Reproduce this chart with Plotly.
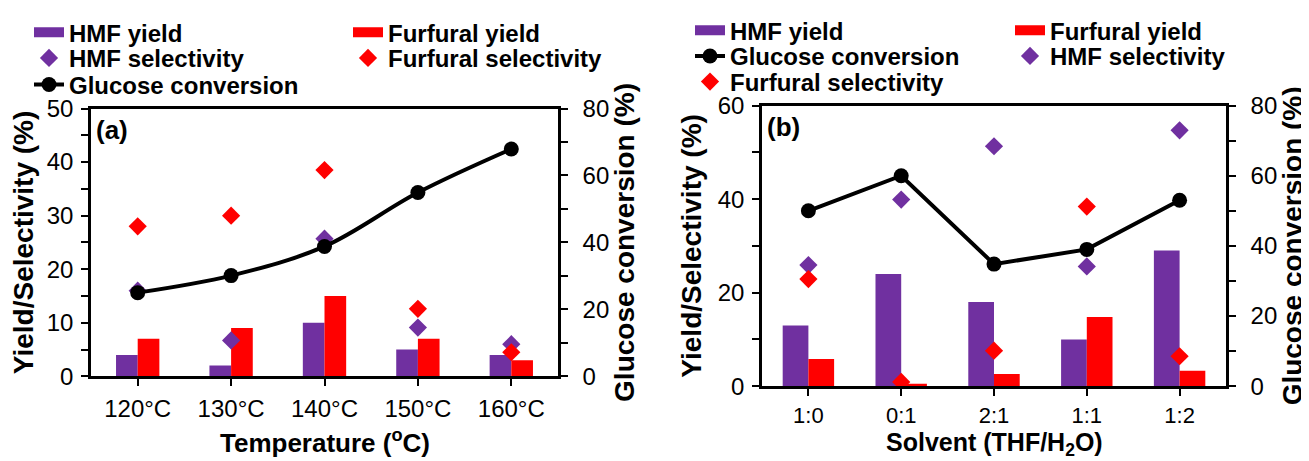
import plotly.graph_objects as go

# ---------------- data ----------------
temp_cats = ["120°C", "130°C", "140°C", "150°C", "160°C"]
a_hmf_yield = [4, 2, 10, 5, 4]
a_furfural_yield = [7, 9, 15, 7, 3]
a_hmf_sel = [16.0, 6.7, 25.7, 9.1, 6.0]
a_furfural_sel = [28.0, 30.0, 38.5, 12.6, 4.5]
a_glucose_conv = [25.0, 30.1, 38.8, 54.9, 67.9]

solv_cats = ["1:0", "0:1", "2:1", "1:1", "1:2"]
b_hmf_yield = [13, 24, 18, 10, 29]
b_furfural_yield = [5.8, 0.5, 2.6, 14.8, 3.3]
b_hmf_sel = [25.9, 39.9, 51.3, 25.6, 54.7]
b_furfural_sel = [22.9, 0.9, 7.6, 38.4, 6.4]
b_glucose_conv = [50.0, 60.0, 34.8, 39.0, 53.0]

PURPLE = "#7030A0"
RED = "#FF0000"
FONT = "Liberation Sans, Arial, sans-serif"
OFF = 8                      # page body margin of the html page
W, H = 1309 - OFF, 461 - OFF

fig = go.Figure()

def px_x(p):
    return (p - OFF) / W

def px_y(p):
    return 1 - (p - OFF) / H

# legend placement: (legend id, left px on screen, centre y px on screen)
leg_pos = {
    "legend": (29, 26), "legend2": (348, 26), "legend3": (29, 52), "legend4": (348, 52), "legend5": (29, 79),
    "legend6": (690, 24), "legend7": (1010, 24), "legend8": (690, 50), "legend9": (1010, 50), "legend10": (690, 76),
}

def add_panel(cats, hmf_y, fur_y, hmf_s, fur_s, conv, xa, ya, ya2, bw, legs, line_shape):
    fig.add_trace(go.Bar(x=cats, y=hmf_y, width=bw, offset=-bw, marker=dict(color=PURPLE, line=dict(width=0)),
                         xaxis=xa, yaxis=ya, showlegend=False, name="HMF yield"))
    fig.add_trace(go.Bar(x=cats, y=fur_y, width=bw, offset=0, marker=dict(color=RED, line=dict(width=0)),
                         xaxis=xa, yaxis=ya, showlegend=False, name="Furfural yield"))
    fig.add_trace(go.Scatter(x=cats, y=hmf_s, mode="markers", marker=dict(symbol="diamond", size=14, color=PURPLE),
                             xaxis=xa, yaxis=ya, name="HMF selectivity", legend=legs["HMF selectivity"]))
    fig.add_trace(go.Scatter(x=cats, y=fur_s, mode="markers", marker=dict(symbol="diamond", size=14, color=RED),
                             xaxis=xa, yaxis=ya, name="Furfural selectivity", legend=legs["Furfural selectivity"]))
    fig.add_trace(go.Scatter(x=cats, y=conv, mode="lines+markers", line=dict(color="black", width=4, shape=line_shape),
                             marker=dict(symbol="circle", size=15, color="black"),
                             xaxis=xa, yaxis=ya2, name="Glucose conversion", legend=legs["Glucose conversion"]))
    # legend proxies for the bar swatches (wide rectangles as in the original)
    fig.add_trace(go.Scatter(x=[None], y=[None], mode="lines", line=dict(color=PURPLE, width=11),
                             xaxis=xa, yaxis=ya, name="HMF yield", legend=legs["HMF yield"]))
    fig.add_trace(go.Scatter(x=[None], y=[None], mode="lines", line=dict(color=RED, width=11),
                             xaxis=xa, yaxis=ya, name="Furfural yield", legend=legs["Furfural yield"]))

add_panel(temp_cats, a_hmf_yield, a_furfural_yield, a_hmf_sel, a_furfural_sel, a_glucose_conv,
          "x", "y", "y2", 0.232,
          {"HMF yield": "legend", "Furfural yield": "legend2", "HMF selectivity": "legend3",
           "Furfural selectivity": "legend4", "Glucose conversion": "legend5"}, "spline")
add_panel(solv_cats, b_hmf_yield, b_furfural_yield, b_hmf_sel, b_furfural_sel, b_glucose_conv,
          "x2", "y3", "y4", 0.277,
          {"HMF yield": "legend6", "Furfural yield": "legend7", "Glucose conversion": "legend8",
           "HMF selectivity": "legend9", "Furfural selectivity": "legend10"}, "linear")

tickfont = dict(family=FONT, size=24, color="black")
xtitlefont = dict(family=FONT, size=26, color="black", weight="bold")
ytitlefont = dict(family=FONT, size=28, color="black", weight="bold")

def xaxis(domain, anchor, labelgap, fsize=24):
    return dict(domain=domain, anchor=anchor, range=[-0.5, 4.5], showline=True, linecolor="black", linewidth=2.5,
                mirror=True, ticks="outside", ticklen=7, tickwidth=2, tickcolor="black",
                tickfont=dict(family=FONT, size=fsize, color="black"),
                ticklabelstandoff=labelgap, showgrid=False, zeroline=False, automargin=False)

def yaxis(domain, rng, dtick, minor, title, anchor, side="left", overlay=None, labelgap=3, standoff=8):
    d = dict(range=rng, dtick=dtick, tick0=0, anchor=anchor, side=side, showline=True, linecolor="black",
             linewidth=2.5, ticks="outside", ticklen=7, tickwidth=2, tickcolor="black", tickfont=tickfont,
             ticklabelstandoff=labelgap,
             minor=dict(dtick=minor, tick0=0, ticks="outside", ticklen=7, tickwidth=2, tickcolor="black", showgrid=False),
             showgrid=False, zeroline=False, automargin=False,
             title=dict(text=title, font=ytitlefont, standoff=standoff))
    if overlay:
        d["overlaying"] = overlay
    else:
        d["domain"] = domain
    return d

layout = dict(
    width=W, height=H, margin=dict(l=0, r=0, t=0, b=0), plot_bgcolor="white", paper_bgcolor="white",
    font=dict(family=FONT, color="black"),
    xaxis=xaxis([px_x(91), px_x(558)], "y", 2),
    xaxis2=xaxis([px_x(762), px_x(1226)], "y3", 1, fsize=22),
    yaxis=yaxis([px_y(375), px_y(103)], [0, 50], 10, 5, "Yield/Selectivity (%)", "x"),
    yaxis2=yaxis(None, [0, 80], 20, 10, "Glucose conversion (%)", "x", side="right", overlay="y",
                 labelgap=10, standoff=5),
    yaxis3=yaxis([px_y(385), px_y(100)], [0, 60], 20, 10, "Yield/Selectivity (%)", "x2"),
    yaxis4=yaxis(None, [0, 80], 20, 10, "Glucose conversion (%)", "x2", side="right", overlay="y3",
                 labelgap=10, standoff=5),
    showlegend=True,
    annotations=[
        dict(text="(a)", x=0.0, y=1.0, xref="x domain", yref="y domain", xanchor="left", yanchor="top",
             xshift=3, yshift=-4, showarrow=False, font=dict(family=FONT, size=26, color="black", weight="bold")),
        dict(text="(b)", x=0.0, y=1.0, xref="x2 domain", yref="y3 domain", xanchor="left", yanchor="top",
             xshift=3, yshift=-4, showarrow=False, font=dict(family=FONT, size=26, color="black", weight="bold")),
        # x-axis titles
        dict(text="Temperature (<sup>o</sup>C)", x=0.5, y=px_y(422), xref="x domain", yref="paper",
             xanchor="center", yanchor="top", showarrow=False, font=xtitlefont),
        dict(text="Solvent (THF/H<sub>2</sub>O)", x=0.5, y=px_y(425), xref="x2 domain", yref="paper",
             xanchor="center", yanchor="top", showarrow=False,
             font=dict(family=FONT, size=25, color="black", weight="bold")),
    ],
)
for lid, (lx, ly) in leg_pos.items():
    layout[lid] = dict(x=px_x(lx), y=px_y(ly), xanchor="left", yanchor="middle", orientation="h",
                       bgcolor="rgba(0,0,0,0)", borderwidth=0,
                       font=dict(family=FONT, size=24, color="black", weight="bold"))

fig.update_layout(**layout)
fig.write_html("out.html")
